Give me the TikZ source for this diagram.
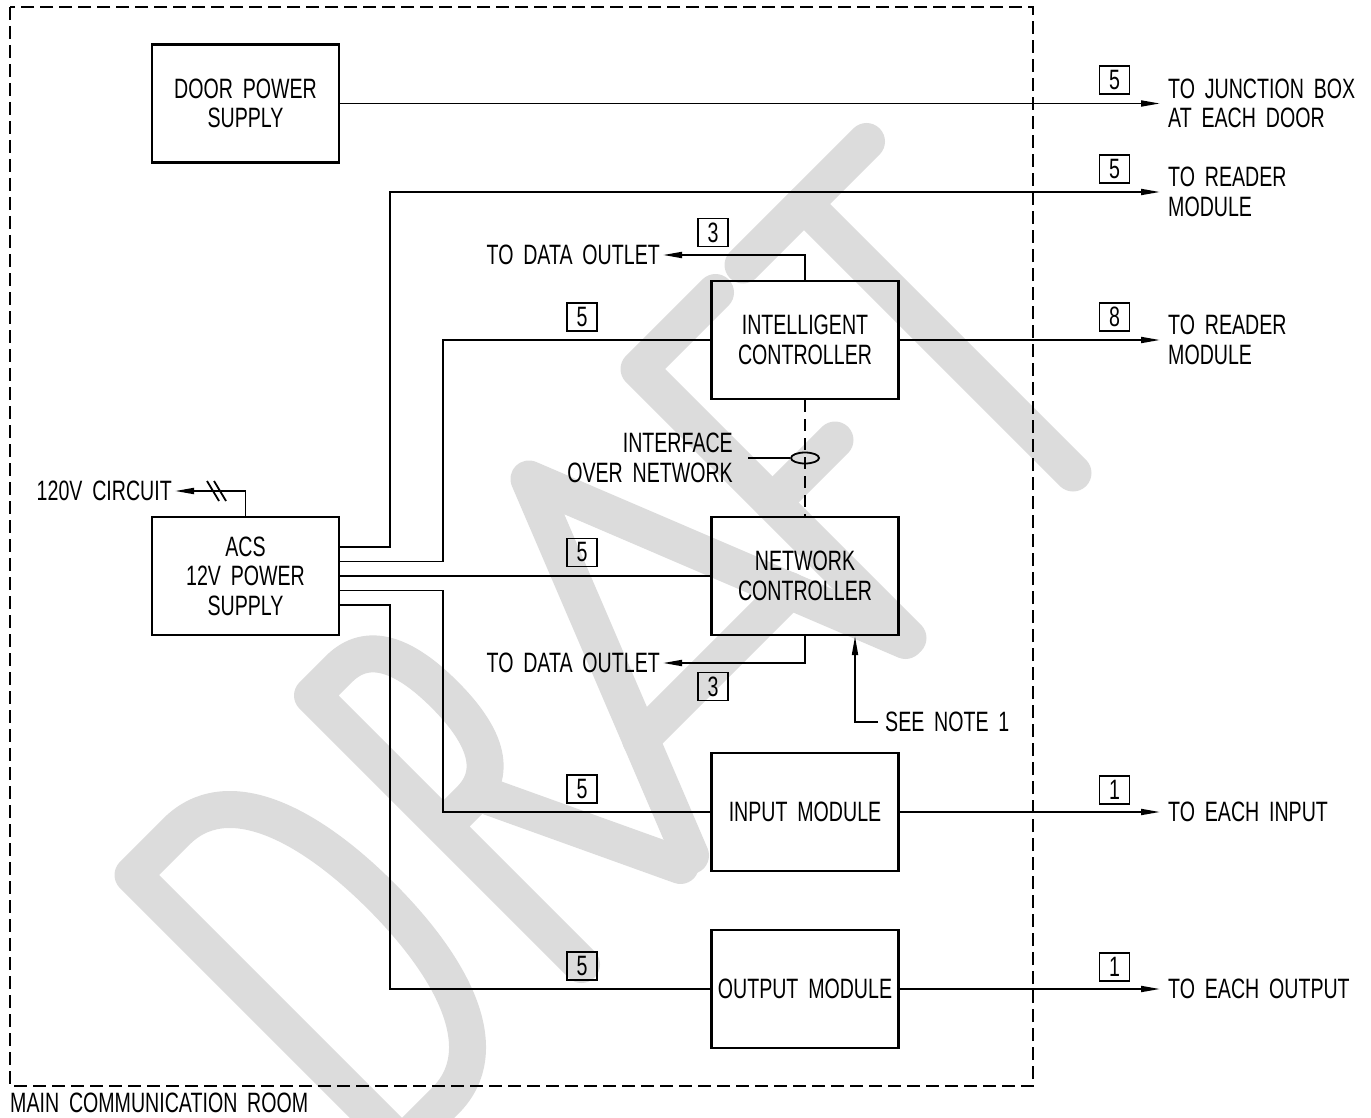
\documentclass[tikz,border=0pt]{standalone}
\usepackage{fontspec}
\setmainfont{Liberation Sans}[FakeStretch=0.7,WordSpace=1.8]
\usetikzlibrary{arrows.meta,shapes.geometric}
\definecolor{wmgray}{RGB}{220,220,220}
\begin{document}
\begin{tikzpicture}[x=1pt,y=-1pt,
  font=\fontsize{28}{29.5}\selectfont,
  wire/.style={line width=1.8pt},
  box/.style={draw,line width=2.2pt,minimum width=187pt,minimum height=118pt,inner sep=0pt,align=center},
  tag/.style={draw,line width=1.8pt,minimum width=30pt,minimum height=28pt,inner sep=0pt},
  lbl/.style={inner sep=0pt},
  arr/.style={-{Triangle[length=19pt,width=6pt]}},
  wmstroke/.style={draw=wmgray,line width=37pt,line cap=round,line join=round}]
\useasboundingbox (0,0) rectangle (1371,1118);
% watermark
\begin{scope}
\clip (0,0) rectangle (1371,1118);
\begin{scope}[x={(0.5pt,0.5pt)},y={(0.5pt,-0.5pt)}]
% D
\path[wmstroke] (-742,1008) -- (-655,1008) .. controls (-555,1008) and (-515,1130) .. (-515,1277)
   .. controls (-515,1424) and (-555,1546) .. (-655,1546) -- (-742,1546) -- cycle;
% R
\path[wmstroke] (-383,1546) -- (-383,1008) -- (-330,1008) .. controls (-272,1008) and (-250,1060) .. (-250,1139)
   .. controls (-250,1218) and (-272,1270) .. (-330,1270) -- (-383,1270);
\path[wmstroke] (-315,1270) -- (-185,1546);
% A
\path[wmstroke] (-165,1546) -- (50,1008) -- (265,1546);
\path[wmstroke] (-99,1380) -- (199,1380);
% F
\path[wmstroke] (270,1546) -- (270,1008) -- (423,1008);
\path[wmstroke] (270,1275) -- (395,1275);
% T
\path[wmstroke] (478,1008) -- (725,1008);
\path[wmstroke] (600,1008) -- (600,1546);
\end{scope}
\end{scope}
% frame
\draw[line width=1.8pt,dash pattern=on 13pt off 6pt] (10,7) rectangle (1033,1086);
\node[lbl,anchor=west] (room) at (10,1103) {MAIN COMMUNICATION ROOM};
% boxes
\node[box] (dps) at (245.5,103.5) {DOOR POWER\\SUPPLY};
\node[box] (acs) at (245.5,576) {ACS\\12V POWER\\SUPPLY};
\node[box] (ic) at (805,340) {INTELLIGENT\\CONTROLLER};
\node[box] (nc) at (805,576) {NETWORK\\CONTROLLER};
\node[box] (im) at (805,812) {INPUT MODULE};
\node[box] (om) at (805,989) {OUTPUT MODULE};
% right labels
\node[lbl,anchor=west,align=left] (t1) at (1168,103.5) {TO JUNCTION BOX\\AT EACH DOOR};
\node[lbl,anchor=west,align=left] (t2) at (1168,192) {TO READER\\MODULE};
\node[lbl,anchor=west,align=left] (t3) at (1168,340) {TO READER\\MODULE};
\node[lbl,anchor=west] (t4) at (1168,812) {TO EACH INPUT};
\node[lbl,anchor=west] (t5) at (1168,989) {TO EACH OUTPUT};
% other labels
\node[lbl,anchor=east] (c120) at (172,491) {120V CIRCUIT};
\node[lbl,anchor=east] (do1) at (660,255) {TO DATA OUTLET};
\node[lbl,anchor=east] (do2) at (660,663) {TO DATA OUTLET};
\node[lbl,anchor=east,align=right] (ifc) at (733,458) {INTERFACE\\OVER NETWORK};
\node[lbl,anchor=west] (note) at (885,722) {SEE NOTE 1};
% tags
\node[tag] (g1) at (1114.5,80) {5};
\node[tag] (g2) at (1114.5,169) {5};
\node[tag] (g3) at (1114.5,317) {8};
\node[tag] (g4) at (1114.5,790) {1};
\node[tag] (g5) at (1114.5,967) {1};
\node[tag] (g6) at (582,317) {5};
\node[tag] (g7) at (582,552.5) {5};
\node[tag] (g8) at (582,789) {5};
\node[tag] (g9) at (582,966) {5};
\node[tag] (g10) at (713,232.5) {3};
\node[tag] (g11) at (713,686.5) {3};
% connectors
\draw[wire,arr] (dps.east) -- ([xshift=-8pt]t1.west);
\draw[wire,arr] ([yshift=29pt]acs.east) -| (390,192) -- ([xshift=-8pt]t2.west);
\draw[wire] ([yshift=14.5pt]acs.east) -| (443,340) -- (ic.west);
\draw[wire] (acs.east) -- (nc.west);
\draw[wire] ([yshift=-14.5pt]acs.east) -| (443,812) -- (im.west);
\draw[wire] ([yshift=-29pt]acs.east) -| (390,989) -- (om.west);
\draw[wire,arr] (ic.east) -- ([xshift=-8pt]t3.west);
\draw[wire,arr] (im.east) -- ([xshift=-8pt]t4.west);
\draw[wire,arr] (om.east) -- ([xshift=-8pt]t5.west);
\draw[wire,arr] (ic.north) |- ([xshift=3pt]do1.east);
\draw[wire,arr] (nc.south) |- ([xshift=3pt]do2.east);
\draw[wire,arr] (acs.north) |- ([xshift=3pt]c120.east);
\draw[wire] (207,481) -- (219,501);
\draw[wire] (214,481) -- (226,501);
\draw[line width=2.2pt,dash pattern=on 12pt off 7pt] (ic.south) -- (nc.north);
\node[draw,ellipse,line width=1.8pt,minimum width=28pt,minimum height=11pt,inner sep=0pt] (el) at (805,458) {};
\draw[wire] ([xshift=15pt]ifc.east) -- (el.west);
\draw[wire,arr] ([xshift=-7pt]note.west) -| ([xshift=50pt]nc.south);
\end{tikzpicture}
\end{document}
